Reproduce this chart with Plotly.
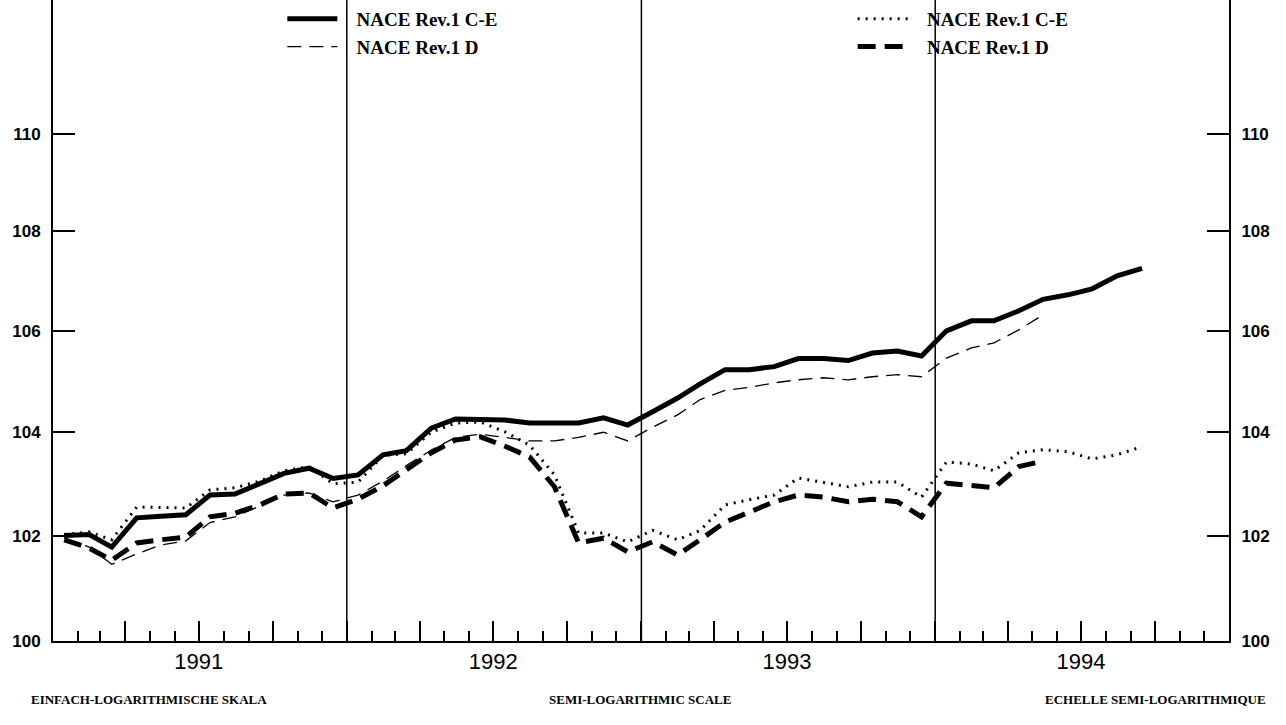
import plotly.graph_objects as go

# monthly observations, Jan 1991 onwards (plotted mid-month)
years = [1991, 1992, 1993, 1994]
months = [f"{y}-{m:02d}-15" for y in years for m in range(1, 13)]

# NACE Rev.1 C-E, solid line (left scale)
ce_solid = [102.0, 102.02, 101.78, 102.34, 102.37, 102.4, 102.78, 102.8, 103.0, 103.2, 103.3, 103.1,
            103.17, 103.56, 103.64, 104.08, 104.26, 104.26, 104.24, 104.18, 104.18, 104.18, 104.28, 104.14,
            104.4, 104.67, 104.95, 105.23, 105.23, 105.29, 105.45, 105.45, 105.41, 105.56, 105.6, 105.5,
            106.0, 106.2, 106.2, 106.4, 106.63, 106.72, 106.84, 107.1, 107.25]

# NACE Rev.1 D, thin dashed line (left scale)
d_thin = [101.95, 101.78, 101.45, 101.65, 101.82, 101.9, 102.25, 102.36, 102.57, 102.78, 102.82, 102.65,
          102.78, 103.05, 103.35, 103.65, 103.9, 103.96, 103.9, 103.83, 103.83, 103.9, 104.0, 103.83,
          104.1, 104.34, 104.64, 104.82, 104.88, 104.97, 105.03, 105.07, 105.03, 105.09, 105.13, 105.09,
          105.46, 105.66, 105.76, 106.02, 106.32]

# NACE Rev.1 C-E, dotted line (right scale)
ce_dotted = [102.02, 102.07, 101.92, 102.55, 102.54, 102.53, 102.88, 102.92, 103.05, 103.25, 103.33, 103.0,
             103.03, 103.55, 103.58, 104.0, 104.18, 104.2, 104.01, 103.75, 103.17, 102.05, 102.05, 101.88,
             102.1, 101.92, 102.1, 102.59, 102.69, 102.78, 103.11, 103.03, 102.94, 103.03, 103.03, 102.74,
             103.42, 103.38, 103.25, 103.6, 103.66, 103.62, 103.48, 103.56, 103.72]

# NACE Rev.1 D, thick dashed line (right scale)
d_thick = [101.92, 101.76, 101.53, 101.86, 101.92, 101.97, 102.36, 102.43, 102.59, 102.8, 102.82, 102.53,
           102.7, 102.96, 103.27, 103.6, 103.85, 103.91, 103.73, 103.52, 102.94, 101.86, 101.95, 101.69,
           101.88, 101.63, 101.92, 102.26, 102.45, 102.65, 102.78, 102.74, 102.65, 102.7, 102.65, 102.36,
           103.01, 102.97, 102.92, 103.33, 103.44]

y_ticks = [100, 102, 104, 106, 108, 110]
notes = ["EINFACH-LOGARITHMISCHE SKALA", "SEMI-LOGARITHMIC SCALE", "ECHELLE SEMI-LOGARITHMIQUE"]

quarters = [f"{y}-{m:02d}-01" for y in years for m in (1, 4, 7, 10)] + ["1995-01-01"]
quarter_text = [str(q[:4]) if q[5:7] == "07" else "" for q in quarters]

pad = "\u00a0\u00a0\u00a0"

fig = go.Figure()
fig.add_trace(go.Scatter(x=months[:len(ce_solid)], y=ce_solid, mode="lines", name=pad + "NACE Rev.1 C-E",
                         line=dict(color="black", width=5), legend="legend", legendgroup="a"))
fig.add_trace(go.Scatter(x=months[:len(d_thin)], y=d_thin, mode="lines", name=pad + "NACE Rev.1 D",
                         line=dict(color="black", width=1.3, dash="14px,8px"), legend="legend", legendgroup="b"))
fig.add_trace(go.Scatter(x=months[:len(ce_dotted)], y=ce_dotted, mode="lines", name=pad + "NACE Rev.1 C-E",
                         line=dict(color="black", width=3, dash="2px,6px"), yaxis="y2",
                         legend="legend2", legendgroup="c"))
fig.add_trace(go.Scatter(x=months[:len(d_thick)], y=d_thick, mode="lines", name=pad + "NACE Rev.1 D",
                         line=dict(color="black", width=5, dash="18px,9px"), yaxis="y2",
                         legend="legend2", legendgroup="d"))

for yr in years[1:]:
    fig.add_vline(x=f"{yr}-01-01", line=dict(color="black", width=1.5))

yrange = [2, 2.0523]
yax = dict(type="log", range=yrange, tickvals=y_ticks, ticktext=[str(v) for v in y_ticks],
           ticks="inside", ticklen=22, tickwidth=2, tickcolor="black", automargin=False,
           ticklabelstandoff=7,
           showline=True, linecolor="black", linewidth=2, showgrid=False, zeroline=False,
           tickfont=dict(family="Liberation Sans", size=17, color="black", weight="bold"))

legend_font = dict(family="Liberation Serif", size=19, color="black", weight="bold")

fig.update_layout(
    width=1286, height=725,
    margin=dict(l=53, r=57, t=0, b=84),
    plot_bgcolor="white", paper_bgcolor="white",
    xaxis=dict(type="date", range=["1991-01-01", "1995-01-01"], tickmode="array",
               tickvals=quarters, ticktext=quarter_text, ticks="inside", ticklen=20, tickwidth=2,
               tickcolor="black", showline=True, linecolor="black", linewidth=2, showgrid=False,
               zeroline=False, automargin=False,
               tickfont=dict(family="Liberation Sans", size=22, color="black"),
               minor=dict(tickmode="linear", tick0="1991-01-01", dtick="M1", ticks="inside",
                          ticklen=10, tickwidth=1.5, tickcolor="black", showgrid=False)),
    yaxis=yax,
    yaxis2=dict(yax, overlaying="y", side="right", anchor="x"),
    legend=dict(x=0.195, xanchor="left", y=1.0, yanchor="top", font=legend_font,
                bgcolor="rgba(0,0,0,0)", tracegroupgap=0, itemwidth=50),
    legend2=dict(x=0.68, xanchor="left", y=1.0, yanchor="top", font=legend_font,
                 bgcolor="rgba(0,0,0,0)", tracegroupgap=0, itemwidth=50),
    showlegend=True,
)

note_x = [-0.02, 0.499, 1.033]
note_anchor = ["left", "center", "right"]
for txt, nx, anc in zip(notes, note_x, note_anchor):
    fig.add_annotation(text=txt, xref="paper", yref="paper", x=nx, y=-0.092, xanchor=anc,
                       yanchor="middle", showarrow=False,
                       font=dict(family="Liberation Serif", size=13, color="black", weight="bold"))

fig.write_html("out.html", config={"displayModeBar": False},
               post_script="document.body.style.margin='0';")
